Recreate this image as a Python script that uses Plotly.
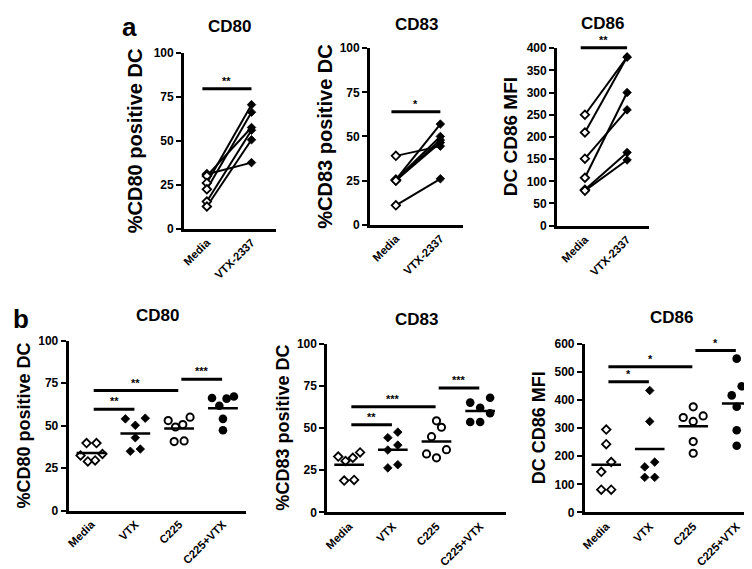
import plotly.graph_objects as go

FONT = "Liberation Sans, Arial, sans-serif"
W, H = 752, 569

# ---- panel a : paired donors, Media vs VTX-2337
a_groups = ["Media", "VTX-2337"]
a_cd80_media = [31.0, 30.0, 26.0, 22.4, 15.4, 12.6]
a_cd80_vtx = [37.6, 57.6, 70.6, 66.3, 56.0, 50.6]
a_cd83_media = [39.0, 25.5, 25.5, 25.0, 25.0, 11.0]
a_cd83_vtx = [44.5, 57.0, 50.0, 48.0, 46.5, 26.0]
a_cd86_media = [250, 210, 151, 108, 81, 79]
a_cd86_vtx = [380, 380, 261, 300, 165, 148]

# ---- panel b : four conditions
b_groups = ["Media", "VTX", "C225", "C225+VTX"]
b_cd80_media = [39.7, 39.7, 32.4, 28.9, 29.5, 33.3]
b_cd80_vtx = [54.4, 54.0, 50.2, 42.9, 34.9, 36.2]
b_cd80_c225 = [55.0, 53.0, 50.6, 49.2, 40.6, 41.0]
b_cd80_combo = [66.3, 65.9, 67.2, 61.7, 54.0, 47.3]
b_cd80_mid = [33.9, 45.4, 48.3, 60.2]

b_cd83_media = [35.6, 32.4, 30.5, 33.1, 18.9, 19.3]
b_cd83_vtx = [44.3, 47.6, 39.9, 37.0, 26.4, 28.3]
b_cd83_c225 = [54.3, 50.5, 44.9, 37.2, 32.4, 34.7]
b_cd83_combo = [68.0, 65.1, 62.0, 58.8, 53.6, 53.6]
b_cd83_mid = [28.3, 37.2, 42.0, 60.1]

b_cd86_media = [294.8, 242.8, 179.2, 144.6, 80.9, 80.9]
b_cd86_vtx = [433.6, 323.7, 179.0, 162.0, 124.9, 124.9]
b_cd86_c225 = [375.7, 343.4, 323.7, 337.6, 252.0, 210.5]
b_cd86_combo = [546.9, 448.6, 416.2, 375.7, 292.5, 237.0]
b_cd86_mid = [170.0, 225.5, 306.3, 387.4]

# significance bars: (from group, to group, height, label)
a_cd80_sig = [(0, 1, 79.6, "**")]
a_cd83_sig = [(0, 1, 64.0, "*")]
a_cd86_sig = [(0, 1, 401, "**")]
b_cd80_sig = [(0, 1, 59.6, "**"), (0, 2, 70.7, "**"), (2, 3, 77.4, "***")]
b_cd83_sig = [(0, 1, 52.0, "**"), (0, 2, 62.6, "***"), (2, 3, 73.8, "***")]
b_cd86_sig = [(0, 1, 464.8, "*"), (0, 2, 518.0, "*"), (2, 3, 575.8, "*")]

# layout of the six plots, in pixels
panels = [
    dict(x0=173, x1=265, y0=39, y1=219, xr=[-0.51, 1.54], ymax=100, dtick=25,
         title="CD80", ytitle="%CD80 positive DC", ytx=123, tty=12, yts=20),
    dict(x0=360, x1=453, y0=34, y1=215, xr=[-0.58, 1.5], ymax=100, dtick=25,
         title="CD83", ytitle="%CD83 positive DC", ytx=315, tty=10, yts=20),
    dict(x0=548, x1=640, y0=34, y1=216, xr=[-0.66, 1.51], ymax=400, dtick=50,
         title="CD86", ytitle="DC CD86 MFI", ytx=502, tty=9, yts=19),
    dict(x0=57, x1=235, y0=334, y1=508, xr=[-0.52, 3.52], ymax=100, dtick=25,
         title="CD80", ytitle="%CD80 positive DC", ytx=12, tty=308, yts=18),
    dict(x0=317, x1=497, y0=337, y1=510, xr=[-0.5, 3.6], ymax=100, dtick=25,
         title="CD83", ytitle="%CD83 positive DC", ytx=273, tty=312, yts=18),
    dict(x0=576, x1=750, y0=337, y1=510, xr=[-0.49, 3.49], ymax=600, dtick=100,
         title="CD86", ytitle="DC CD86 MFI", ytx=530, tty=310, yts=18),
]

open_d = dict(symbol="diamond-open", size=6.5, color="black", line=dict(width=1.8, color="black"))
fill_d = dict(symbol="diamond", size=6.6, color="black", line=dict(width=0.8, color="black"))
open_c = dict(symbol="circle-open", size=7.2, color="black", line=dict(width=2, color="black"))
fill_c = dict(symbol="circle", size=8.6, color="black", line=dict(width=0))
b_markers = [open_d, fill_d, open_c, fill_c]


def swarm(vals, px_per_unit, cat_px):
    # spread points of similar value side by side, GraphPad style
    order = sorted(range(len(vals)), key=lambda i: vals[i])
    offs = [0.0] * len(vals)
    bins = []
    for i in order:
        if bins and (vals[i] - vals[bins[-1][0]]) * px_per_unit <= 10.5:
            bins[-1].append(i)
        else:
            bins.append([i])
    for b in bins:
        n = len(b)
        step = min(10, 22 / (n - 1)) if n > 1 else 0
        slots = sorted([k - (n - 1) / 2 for k in range(n)], key=lambda s: (abs(s), s))
        for i, s in zip(b, slots):
            offs[i] = s * step / cat_px
    return offs


fig = go.Figure()
annotations = []
shapes = []
layout = {}

a_pairs = [(a_cd80_media, a_cd80_vtx), (a_cd83_media, a_cd83_vtx), (a_cd86_media, a_cd86_vtx)]
b_sets = [
    ([b_cd80_media, b_cd80_vtx, b_cd80_c225, b_cd80_combo], b_cd80_mid),
    ([b_cd83_media, b_cd83_vtx, b_cd83_c225, b_cd83_combo], b_cd83_mid),
    ([b_cd86_media, b_cd86_vtx, b_cd86_c225, b_cd86_combo], b_cd86_mid),
]
sigs = [a_cd80_sig, a_cd83_sig, a_cd86_sig, b_cd80_sig, b_cd83_sig, b_cd86_sig]

for k, p in enumerate(panels):
    n = k + 1
    xa, ya = ("x", "y") if n == 1 else (f"x{n}", f"y{n}")
    groups = a_groups if k < 3 else b_groups
    cat_px = (p["x1"] - p["x0"]) / (p["xr"][1] - p["xr"][0])
    px_per_unit = (p["y1"] - p["y0"]) / p["ymax"]

    if k < 3:
        med, vtx = a_pairs[k]
        for m, v in zip(med, vtx):
            fig.add_trace(go.Scatter(x=[0, 1], y=[m, v], mode="lines",
                                     line=dict(color="black", width=2),
                                     xaxis=xa, yaxis=ya, showlegend=False))
        fig.add_trace(go.Scatter(x=[1] * len(vtx), y=vtx, mode="markers", marker=fill_d,
                                 xaxis=xa, yaxis=ya, showlegend=False, cliponaxis=False))
        fig.add_trace(go.Scatter(x=[0] * len(med), y=med, mode="markers",
                                 marker=dict(open_d, color="white", symbol="diamond"),
                                 xaxis=xa, yaxis=ya, showlegend=False, cliponaxis=False))
    else:
        vals_list, mids = b_sets[k - 3]
        for g, vals in enumerate(vals_list):
            offs = swarm(vals, px_per_unit, cat_px)
            fig.add_trace(go.Scatter(x=[g + o for o in offs], y=vals, mode="markers",
                                     marker=b_markers[g], xaxis=xa, yaxis=ya,
                                     showlegend=False, cliponaxis=False))
            fig.add_trace(go.Scatter(x=[g - 0.34, g + 0.34], y=[mids[g], mids[g]],
                                     mode="lines", line=dict(color="black", width=2.5),
                                     xaxis=xa, yaxis=ya, showlegend=False))

    # significance bars (axis-domain units so they may rise above the axis top)
    for (g0, g1, h, lab) in sigs[k]:
        if k < 3:
            xs = [g0 - 0.1, g1]
        else:
            xs = [g0 + 0.05, g1 - 0.02]
        frac = h / p["ymax"]
        shapes.append(dict(type="line", xref=xa, yref=f"{ya} domain",
                           x0=xs[0], x1=xs[1], y0=frac, y1=frac,
                           line=dict(color="black", width=3)))
        annotations.append(dict(x=(xs[0] + xs[1]) / 2, y=frac, xref=xa, yref=f"{ya} domain",
                                text=f"<b>{lab}</b>", showarrow=False, yanchor="bottom",
                                font=dict(size=11, color="black", family=FONT)))

    dom_x = [p["x0"] / W, p["x1"] / W]
    dom_y = [1 - p["y1"] / H, 1 - p["y0"] / H]
    layout["xaxis" if n == 1 else f"xaxis{n}"] = dict(
        domain=dom_x, range=p["xr"], anchor=ya, tickvals=list(range(len(groups))),
        ticktext=groups, tickangle=-45, showline=True, linewidth=3, linecolor="black",
        ticks="", showgrid=False, zeroline=False,
        tickfont=dict(size=11.3, color="black", family=FONT, weight="bold"))
    layout["yaxis" if n == 1 else f"yaxis{n}"] = dict(
        domain=dom_y, range=[0, p["ymax"]], anchor=xa, dtick=p["dtick"], tick0=0,
        showline=True, linewidth=3, linecolor="black", ticks="outside", ticklen=5,
        tickwidth=2, tickcolor="black", showgrid=False, zeroline=False,
        tickfont=dict(size=12, color="black", family=FONT, weight="bold"))

    annotations.append(dict(x=(p["x0"] + p["x1"]) / 2 / W, y=1 - p["tty"] / H, xref="paper",
                            yref="paper", text=f"<b>{p['title']}</b>", showarrow=False,
                            xanchor="center", yanchor="middle",
                            font=dict(size=17, color="black", family=FONT)))
    annotations.append(dict(x=p["ytx"] / W, y=1 - (p["y0"] + p["y1"]) / 2 / H, xref="paper",
                            yref="paper", text=f"<b>{p['ytitle']}</b>", showarrow=False,
                            textangle=-90, xanchor="center", yanchor="middle",
                            font=dict(size=p["yts"], color="black", family=FONT)))

# panel letters
for lab, x, y in [("a", 118, 12), ("b", 9, 312)]:
    annotations.append(dict(x=x / W, y=1 - y / H, xref="paper", yref="paper",
                            text=f"<b>{lab}</b>", showarrow=False, xanchor="center",
                            yanchor="middle", font=dict(size=26, color="black", family=FONT)))

fig.update_layout(
    width=W, height=H, margin=dict(l=0, r=0, t=0, b=0),
    paper_bgcolor="white", plot_bgcolor="white",
    font=dict(family=FONT, color="black"),
    annotations=annotations, shapes=shapes, showlegend=False,
    **layout,
)

fig.write_html("out.html")
